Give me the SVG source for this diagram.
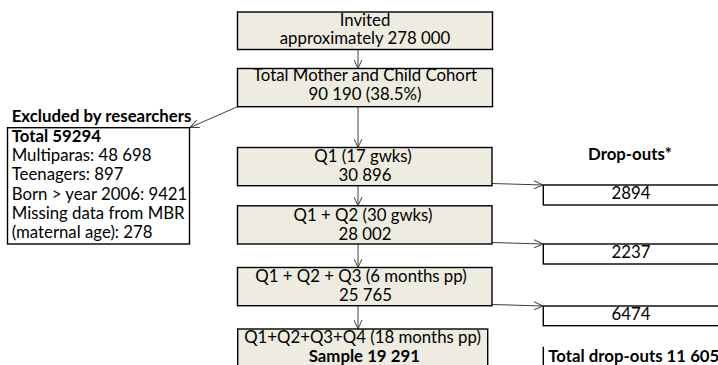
<svg xmlns="http://www.w3.org/2000/svg" width="718" height="365" viewBox="0 0 718 365">
<defs>
<style>
.box{fill:#EEECE1;stroke:#000;stroke-width:1.4}
.wbox{fill:#fff;stroke:#000;stroke-width:1.4}
.t{font-family:Lato,"Liberation Sans",sans-serif;font-size:16.8px;fill:#000}
.c{text-anchor:middle}
.b{font-weight:bold}
.con{fill:none;stroke:#404040;stroke-width:1}
</style>
<marker id="arr" viewBox="0 0 10 10" refX="10" refY="5" markerWidth="9" markerHeight="9" markerUnits="userSpaceOnUse" orient="auto">
<path d="M0,0.5 L10,5 L0,9.5" fill="none" stroke="#404040" stroke-width="1.1"/>
</marker>
</defs>
<rect width="718" height="365" fill="#fff"/>
<g id="connectors">
<line class="con" x1="358" y1="49.5" x2="358" y2="68.5" marker-end="url(#arr)"/>
<line class="con" x1="358" y1="106.7" x2="358" y2="147.5" marker-end="url(#arr)"/>
<line class="con" x1="358" y1="185.7" x2="358" y2="205.8" marker-end="url(#arr)"/>
<line class="con" x1="358" y1="244" x2="358" y2="267.5" marker-end="url(#arr)"/>
<line class="con" x1="358" y1="305.7" x2="358" y2="329" marker-end="url(#arr)"/>
<line class="con" x1="237.5" y1="106.7" x2="190" y2="127.5" marker-end="url(#arr)"/>
<line class="con" x1="492" y1="183.5" x2="543" y2="185" marker-end="url(#arr)"/>
<line class="con" x1="492" y1="242.5" x2="543" y2="244" marker-end="url(#arr)"/>
<line class="con" x1="492" y1="304.5" x2="543" y2="306" marker-end="url(#arr)"/>
</g>
<g id="invited">
<rect class="box" x="237.5" y="12" width="255" height="37.5"/>
<text class="t c" x="365" y="25.8">Invited</text>
<text class="t c" x="365" y="44.2">approximately 278 000</text>
</g>
<g id="cohort">
<rect class="box" x="237.5" y="68.5" width="255" height="38.2"/>
<text class="t c" x="365" y="81.4">Total Mother and Child Cohort</text>
<text class="t c" x="365" y="100.3">90 190 (38.5%)</text>
</g>
<g id="excluded">
<text class="t b" x="11.7" y="121.7">Excluded by researchers</text>
<rect class="wbox" x="7.5" y="127.7" width="182" height="116.3"/>
<text class="t b" x="11.7" y="141.8">Total 59294</text>
<text class="t" x="11.7" y="161.1">Multiparas: 48 698</text>
<text class="t" x="11.7" y="180.4">Teenagers: 897</text>
<text class="t" x="11.7" y="199.7">Born &gt; year 2006: 9421</text>
<text class="t" x="11.7" y="219">Missing data from MBR</text>
<text class="t" x="11.7" y="238.3">(maternal age): 278</text>
</g>
<g id="q1">
<rect class="box" x="237.5" y="147.5" width="254.5" height="38.2"/>
<text class="t c" x="363" y="161.7">Q1 (17 gwks)</text>
<text class="t c" x="365" y="180.7">30 896</text>
</g>
<g id="q2">
<rect class="box" x="237.5" y="205.8" width="254.5" height="38.2"/>
<text class="t c" x="363" y="220.7">Q1 + Q2 (30 gwks)</text>
<text class="t c" x="365" y="239.5">28 002</text>
</g>
<g id="q3">
<rect class="box" x="237.5" y="267.5" width="254.5" height="38.2"/>
<text class="t c" x="361" y="281.8">Q1 + Q2 + Q3 (6 months pp)</text>
<text class="t c" x="365.5" y="301">25 765</text>
</g>
<g id="q4">
<rect class="box" x="237.7" y="329" width="250" height="45"/>
<text class="t c" x="362.5" y="343">Q1+Q2+Q3+Q4 (18 months pp)</text>
<text class="t c b" x="364.3" y="361.5">Sample 19 291</text>
</g>
<g id="dropouts-title">
<text class="t c b" x="630" y="160">Drop-outs*</text>
</g>
<g id="d1">
<rect class="wbox" x="543.3" y="185" width="200" height="20"/>
<text class="t c" x="631" y="199.2">2894</text>
</g>
<g id="d2">
<rect class="wbox" x="543.3" y="244" width="200" height="20"/>
<text class="t c" x="631" y="258.4">2237</text>
</g>
<g id="d3">
<rect class="wbox" x="543.3" y="306" width="200" height="19.7"/>
<text class="t c" x="631" y="320">6474</text>
</g>
<g id="total-dropouts">
<line x1="543.3" y1="346.7" x2="543.3" y2="366" stroke="#000" stroke-width="1.4"/>
<text class="t b" x="548.3" y="361.7">Total drop-outs 11 605</text>
</g>
</svg>
